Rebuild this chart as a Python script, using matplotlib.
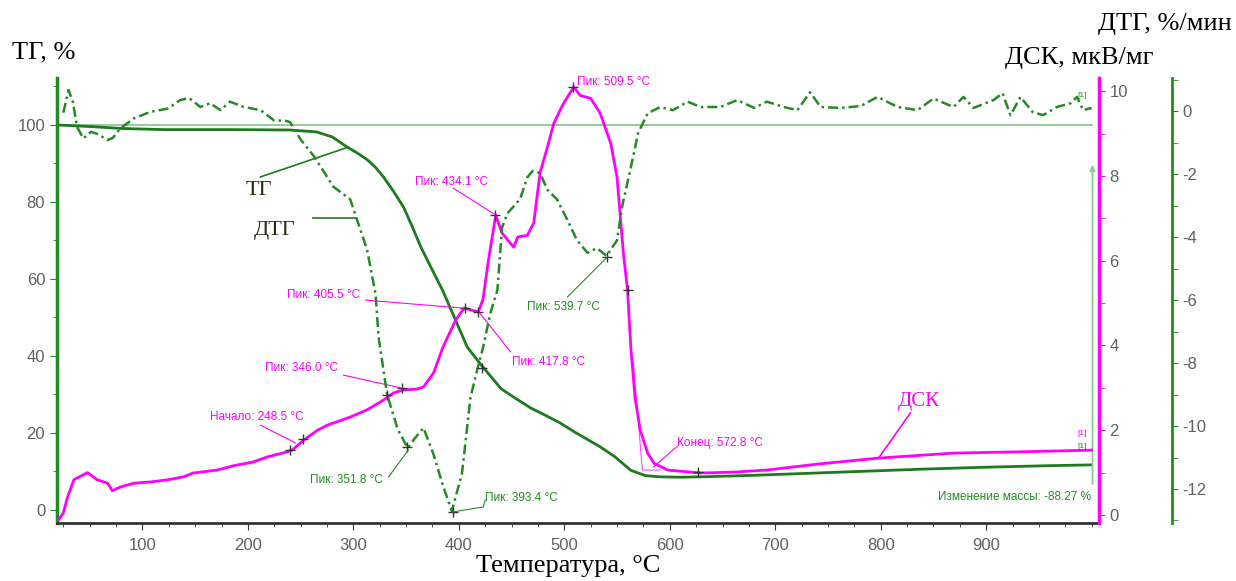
import numpy as np
import matplotlib.pyplot as plt
from matplotlib.ticker import MultipleLocator, FixedLocator

# ---- data ----
tg_t = [20, 50, 80, 120, 180, 240, 265, 280, 294, 305, 313, 321, 328.5, 338, 347.5, 356,
        364, 374, 384.5, 395, 408, 420.5, 433, 440, 452, 468, 482, 496, 510, 522, 534,
        548, 563, 577, 591, 610, 630, 680, 740, 780, 840, 900, 960, 1000]
tg_v = [100, 99.6, 99.1, 98.8, 98.8, 98.7, 98.2, 96.9, 94.3, 92.5, 91, 89, 86.5, 82.8, 78.7, 73.5,
        68.3, 62.8, 57.1, 50.5, 42.3, 37.9, 33.8, 31.5, 29.3, 26.5, 24.6, 22.6, 20.2, 18.3, 16.4,
        13.8, 10.3, 8.9, 8.6, 8.5, 8.6, 9.0, 9.6, 10.0, 10.6, 11.1, 11.5, 11.7]

dtg_t = [25, 30, 34, 38, 44, 51, 57, 67, 72, 79, 92, 107, 124, 136, 144, 155, 164, 174, 183,
         196, 212, 225, 235, 240, 250, 263, 281, 297, 303, 313, 321, 324, 332, 342, 351.5,
         358, 366.5, 376, 385, 393.4, 403, 411, 417.5, 423, 430, 436.5, 441, 446, 458, 465,
         470, 477, 484, 493, 503, 512, 522, 531, 540, 550, 555, 563, 570, 579, 591, 603, 617,
         629, 648, 664, 680, 692, 708, 721, 733, 743, 762, 781, 797, 816, 835, 850, 869,
         878.5, 888, 907, 915.5, 923, 932.5, 944, 954, 967, 980, 986, 992, 1000]
dtg_v = [-0.05, 0.67, 0.3, -0.5, -0.87, -0.66, -0.72, -0.92, -0.85, -0.55, -0.23, -0.03, 0.08,
         0.35, 0.42, 0.13, 0.25, 0.03, 0.3, 0.13, 0.03, -0.3, -0.3, -0.35, -0.9, -1.45, -2.4,
         -2.8, -3.4, -4.4, -5.8, -7.2, -9.0, -10.1, -10.7, -10.4, -10.06, -10.9, -11.9, -12.7,
         -11.5, -9.1, -8.2, -7.5, -6.4, -5.7, -3.7, -3.25, -2.8, -2.1, -1.9, -1.97, -2.5, -2.8,
         -3.46, -4.1, -4.5, -4.35, -4.6, -4.1, -3.0, -1.8, -0.7, -0.07, 0.13, 0.03, 0.3, 0.13,
         0.13, 0.35, 0.1, 0.3, 0.13, 0.03, 0.6, 0.13, 0.1, 0.16, 0.45, 0.13, 0.03, 0.4, 0.13,
         0.45, 0.1, 0.35, 0.57, -0.13, 0.45, -0.03, -0.13, 0.13, 0.25, 0.45, 0.03, 0.1]

dsc_t = [21, 25, 29, 35, 48, 57, 67, 71.5, 79, 92, 108, 124, 139, 148, 171, 186, 205, 218.5,
         237.5, 243, 253, 266, 275.5, 297, 313, 328.5, 338, 347.5, 360, 366.5, 376, 385, 397,
         405, 418.6, 423, 428, 435, 441, 452, 456, 465, 471, 477, 484, 490, 499, 509, 515,
         525, 534, 544, 550, 556, 560, 563, 567, 572, 579, 585, 598, 629, 660, 692, 740, 797,
         869, 932, 1000]
dsc_v = [-0.1, 0.05, 0.42, 0.83, 1.0, 0.83, 0.75, 0.57, 0.66, 0.75, 0.78, 0.83, 0.9, 0.99,
         1.06, 1.16, 1.25, 1.37, 1.49, 1.55, 1.77, 2.0, 2.12, 2.31, 2.48, 2.71, 2.88, 2.95,
         2.97, 3.02, 3.35, 3.96, 4.6, 4.88, 4.79, 5.1, 6.0, 7.07, 6.65, 6.32, 6.56, 6.6, 6.89,
         8.07, 8.68, 9.24, 9.7, 10.1, 9.9, 9.83, 9.48, 8.77, 7.97, 6.18, 5.3, 3.97, 2.78, 2.0,
         1.46, 1.22, 1.06, 0.99, 1.01, 1.06, 1.2, 1.34, 1.46, 1.49, 1.53]

# peak markers
dsc_mark_t = [240.3, 252.7, 346.5, 406.3, 418.6, 434.7, 508.7, 560, 627]
dsc_mark_v = [1.53, 1.79, 3.0, 4.88, 4.79, 7.08, 10.09, 5.3, 1.01]
dtg_mark_t = [332, 351.3, 394, 422.4, 540.9]
dtg_mark_v = [-9.0, -10.67, -12.73, -8.16, -4.63]

x_ticks = [100, 200, 300, 400, 500, 600, 700, 800, 900]

GREEN = '#238b23'
DGREEN = '#1e7a1e'
LGREEN = '#8cc98c'
PINK = '#ff00ff'
GRAY = '#606060'
SANS = 'Liberation Sans'
SERIF = 'Liberation Serif'

plt.rcParams['font.family'] = SANS

fig = plt.figure(figsize=(12.36, 5.81), dpi=100)
ax = fig.add_axes([0.0461, 0.0998, 0.8431, 0.7659])
ax2 = ax.twinx()
ax3 = ax.twinx()

# TG
ax.axhline(100, xmin=0.0, xmax=0.993, color=LGREEN, lw=1.3)
ax.plot(tg_t, tg_v, color=DGREEN, lw=2.0)
ax.set_xlim(19, 1007)
ax.set_ylim(-3.4, 112.2)

# DSC
ax2.plot(dsc_t, dsc_v, color=PINK, lw=2.0)
ax2.plot(dsc_mark_t, dsc_mark_v, '+', color='#333333', ms=7, mew=1)
ax2.set_ylim(-0.19, 10.31)

# DTG
ax3.plot(dtg_t, dtg_v, color=GREEN, lw=1.8, linestyle=(0, (4, 1.6, 1, 1.6)))
ax3.plot(dtg_mark_t, dtg_mark_v, '+', color='#333333', ms=7, mew=1)
ax3.set_ylim(-13.08, 1.05)
ax3.spines['right'].set_position(('axes', 1.070))

# spines and ticks
for a in (ax, ax2, ax3):
    for s in ('top', 'left', 'right', 'bottom'):
        a.spines[s].set_visible(False)
ax.spines['left'].set_visible(True)
ax.spines['left'].set_color(GREEN)
ax.spines['left'].set_linewidth(2.5)
ax.spines['bottom'].set_visible(True)
ax.spines['bottom'].set_color('#333333')
ax.spines['bottom'].set_linewidth(2)
ax2.spines['right'].set_visible(True)
ax2.spines['right'].set_color(PINK)
ax2.spines['right'].set_linewidth(2.5)
ax3.spines['right'].set_visible(True)
ax3.spines['right'].set_color(GREEN)
ax3.spines['right'].set_linewidth(2)

ax.xaxis.set_major_locator(FixedLocator(x_ticks))
ax.xaxis.set_minor_locator(MultipleLocator(25))
ax.yaxis.set_major_locator(MultipleLocator(20))
ax.yaxis.set_minor_locator(MultipleLocator(10))
ax2.yaxis.set_major_locator(MultipleLocator(2))
ax2.yaxis.set_minor_locator(MultipleLocator(1))
ax3.yaxis.set_major_locator(MultipleLocator(2))
ax3.yaxis.set_minor_locator(MultipleLocator(1))

ax.tick_params(axis='x', which='both', colors='#333333', labelcolor=GRAY, labelsize=12, pad=6)
ax.tick_params(axis='x', which='major', length=5)
ax.tick_params(axis='x', which='minor', length=3)
ax.tick_params(axis='y', which='both', colors=GREEN, labelcolor=GRAY, labelsize=12)
ax.tick_params(axis='y', which='major', length=5)
ax.tick_params(axis='y', which='minor', length=3)
ax2.tick_params(axis='y', which='both', colors=PINK, labelcolor=GRAY, labelsize=12, length=4)
ax3.tick_params(axis='y', which='both', colors=GREEN, labelcolor=GRAY, labelsize=12, length=4)
ax3.yaxis.set_major_formatter(plt.FuncFormatter(lambda v, p: '%d' % round(v)))

# mass change arrow and note
ax.annotate('', xy=(1000.8, 90.4), xytext=(1000.8, 6.0),
            arrowprops=dict(arrowstyle='-|>', color=LGREEN, lw=1.3, mutation_scale=8))
ax.text(998.9, 3.4, 'Изменение массы: -88.27 %', color=GREEN, fontsize=8.5,
        ha='right', va='center')
ax3.text(991.3, 0.5, '[1]', color=GREEN, fontsize=6, ha='center', va='center')
ax2.text(991.3, 1.93, '[1]', color=PINK, fontsize=6, ha='center', va='center')
ax2.text(991.3, 1.62, '[1]', color=GREEN, fontsize=6, ha='center', va='center')

# DSC peak labels
afs = 8.5
ax2.plot([211.9, 245], [2.12, 1.70], color=PINK, lw=0.8)
ax2.text(164.5, 2.31, 'Начало: 248.5 °C', color=PINK, fontsize=afs, va='center')
ax2.plot([290.6, 344.6], [3.30, 3.0], color=PINK, lw=0.8)
ax2.text(216.6, 3.47, 'Пик: 346.0 °C', color=PINK, fontsize=afs, va='center')
ax2.plot([311.5, 404.4], [5.07, 4.88], color=PINK, lw=0.8)
ax2.text(237.5, 5.19, 'Пик: 405.5 °C', color=PINK, fontsize=afs, va='center')
ax2.plot([420, 449], [4.76, 3.85], color=PINK, lw=0.8)
ax2.text(450.8, 3.61, 'Пик: 417.8 °C', color=PINK, fontsize=afs, va='center')
ax2.plot([394.9, 434.7], [7.71, 7.08], color=PINK, lw=0.8)
ax2.text(358.9, 7.85, 'Пик: 434.1 °C', color=PINK, fontsize=afs, va='center')
ax2.text(512.5, 10.22, 'Пик: 509.5 °C', color=PINK, fontsize=afs, va='center')
ax2.plot([565.5, 574, 591], [3.6, 1.06, 1.06], color=PINK, lw=0.8, alpha=0.7)
ax2.plot([584.5, 607], [1.13, 1.62], color=PINK, lw=0.8)
ax2.text(607.3, 1.70, 'Конец: 572.8 °C', color=PINK, fontsize=afs, va='center')

# DTG peak labels
ax3.plot([333.3, 352.2], [-11.62, -10.76], color=GREEN, lw=0.8)
ax3.text(259.3, -11.71, 'Пик: 351.8 °C', color=GREEN, fontsize=afs, va='center')
ax3.plot([394, 423.3, 425], [-12.73, -12.57, -12.35], color=GREEN, lw=0.8)
ax3.text(425.2, -12.29, 'Пик: 393.4 °C', color=GREEN, fontsize=afs, va='center')
ax3.plot([503, 540.9], [-5.9, -4.63], color=GREEN, lw=0.8)
ax3.text(465, -6.22, 'Пик: 539.7 °C', color=GREEN, fontsize=afs, va='center')

# curve names
ax.plot([211.9, 292.5], [86.5, 94.0], color=DGREEN, lw=1.2)
ax.text(197.7, 83.1, 'ТГ', family=SERIF, fontsize=16, color='#2b2b10', va='center')
ax.plot([262.1, 302], [75.8, 75.8], color=DGREEN, lw=1.2)
ax.text(205.3, 72.7, 'ДТГ', family=SERIF, fontsize=16, color='#2b2b10', va='center')
ax2.plot([828.2, 797.9], [2.41, 1.34], color=PINK, lw=1.2)
ax2.text(815.9, 2.67, 'ДСК', family=SERIF, fontsize=15, color=PINK, va='center')

# axis titles
fig.text(0.0097, 0.909, 'ТГ, %', family=SERIF, fontsize=19, va='center', ha='left')
fig.text(0.9968, 0.959, 'ДТГ, %/мин', family=SERIF, fontsize=19, va='center', ha='right')
fig.text(0.933, 0.900, 'ДСК, мкВ/мг', family=SERIF, fontsize=19, va='center', ha='right')
fig.text(0.4595, 0.026, 'Температура, °C', family=SERIF, fontsize=19, va='center', ha='center')

fig.savefig('out.png', dpi=100)
